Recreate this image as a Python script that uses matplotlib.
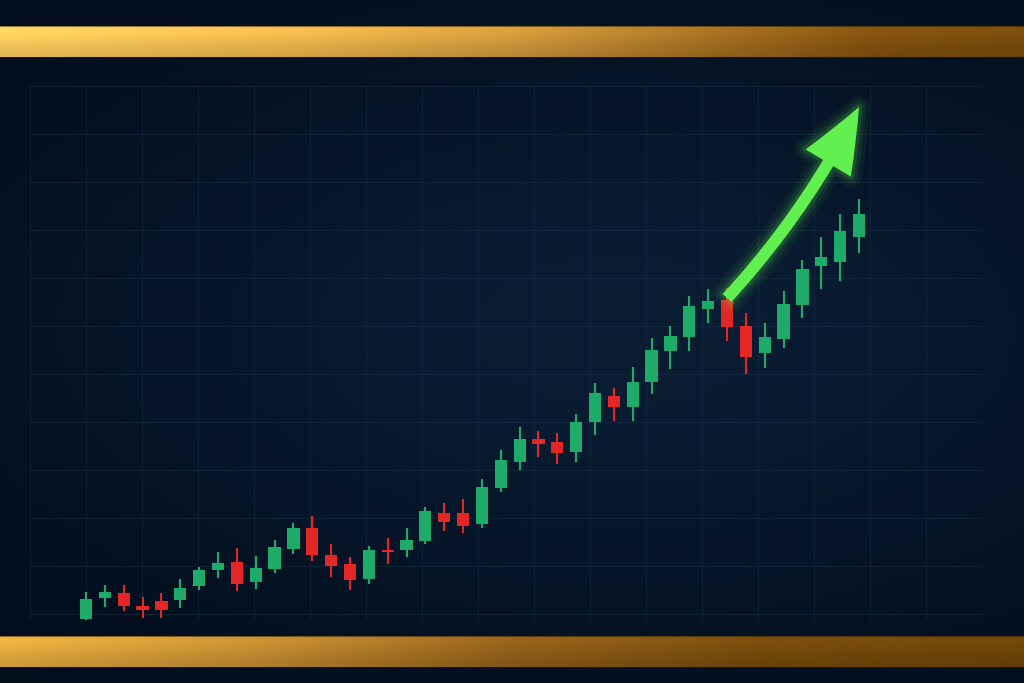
import numpy as np
import matplotlib
matplotlib.use("Agg")
import matplotlib.pyplot as plt
from matplotlib.patches import FancyArrowPatch
import matplotlib.patheffects as pe

# ---- data: OHLC candles ----
opens  = [97.5, 108, 110.5, 104, 106.5, 107, 114, 122, 126, 116, 122.5, 132.5, 143, 129.5,
          125, 117.5, 132, 132, 136.5, 150.5, 150.5, 145, 163, 176, 187.5, 186, 181, 196,
          209, 203.5, 216, 231.5, 238.5, 252.5, 257, 244, 230.5, 237.5, 254.5, 274, 276, 288.5]
highs  = [111, 114.5, 114.5, 108.5, 110.5, 117.5, 123.5, 131, 133, 129, 137, 145.5, 149, 135,
          128.5, 134, 138, 143, 153.5, 155.5, 157.5, 167.5, 182, 193.5, 191.5, 190.5, 200, 215.5,
          213, 223.5, 238, 244, 259, 262.5, 263, 250.5, 245.5, 261.5, 277, 288.5, 300, 307.5]
lows   = [95.5, 103.5, 101.5, 98, 98, 103, 112, 118, 111.5, 112.5, 120.5, 130, 126.5, 118.5,
          112, 115, 125, 128.5, 135, 141.5, 140.5, 143, 161, 172, 178.5, 175, 176, 189.5,
          196.5, 196.5, 210, 222.5, 231.5, 245.5, 236.5, 220, 223, 233, 248, 262.5, 266.5, 280.5]
closes = [107.5, 111, 104, 102, 102, 113, 122, 125.5, 115, 123, 133.5, 143, 129.5, 124,
          117, 132, 131, 137, 151.5, 146, 144, 163.5, 177, 187.5, 185, 180.5, 196, 210.5,
          203.5, 216, 232, 239, 254, 256.5, 243.5, 228.5, 238.5, 255, 272.5, 278.5, 291.5, 300]

grid_prices = [100 + 24 * k for k in range(12)]
arrow_start = (34, 258)
arrow_end = (41, 353.5)

GREEN = "#1eab69"
RED = "#e32727"
ARROW = "#62f050"

W, H = 1024, 683
fig = plt.figure(figsize=(W / 100, H / 100), dpi=100)

# ---- background ----
bg = fig.add_axes([0, 0, 1, 1])
bg.set_xlim(0, W)
bg.set_ylim(H, 0)
bg.axis("off")
yy, xx = np.mgrid[0:H, 0:W]
dark = np.array([0x02, 0x0d, 0x1b]) / 255
light = np.array([0x0a, 0x1d, 0x33]) / 255
r2 = ((xx - 620) / 650) ** 2 + ((yy - 330) / 330) ** 2
t = np.exp(-r2 * 1.3)[..., None]
img = dark + (light - dark) * t
bg.imshow(img, extent=(0, W, H, 0), aspect="auto", zorder=0, interpolation="bilinear")


def gold_bar(y0, y1, stops):
    xs = np.linspace(0, 1, 512)
    pos = [s[0] for s in stops]
    cols = np.array([matplotlib.colors.to_rgb(s[1]) for s in stops])
    row = np.stack([np.interp(xs, pos, cols[:, i]) for i in range(3)], axis=-1)
    n = 32
    shade = (1.0 + 0.08 * np.cos(np.linspace(0, np.pi, n)))[:, None, None]
    bar = np.clip(row[None, :, :] * shade, 0, 1)
    bg.imshow(bar, extent=(0, W, y1, y0), aspect="auto", zorder=1, interpolation="bilinear")
    bg.plot([0, W], [y0, y0], color="#2a1a05", lw=0.8, alpha=0.5, zorder=2)
    bg.plot([0, W], [y1, y1], color="#2a1a05", lw=0.8, alpha=0.6, zorder=2)


gold_bar(26, 57, [(0, "#f8cb5c"), (0.3, "#e8b24a"), (0.5, "#cc963a"), (0.7, "#a06c20"),
                  (0.85, "#80500f"), (1.0, "#764a0c")])
gold_bar(636, 667, [(0, "#e2aa3e"), (0.25, "#c08a30"), (0.5, "#8f5e1a"), (0.75, "#74490c"),
                    (1.0, "#6c4408")])

# ---- chart axes ----
x0_px, spacing = 86, 773 / 41
ax = fig.add_axes([30 / W, (H - 620) / H, (982 - 30) / W, (620 - 86) / H])
ax.set_facecolor("none")
ax.set_xlim((30 - x0_px) / spacing, (982 - x0_px) / spacing)
ax.set_ylim(97, 364)
for s in ax.spines.values():
    s.set_visible(False)
ax.set_xticks([(30 + 56 * k - x0_px) / spacing for k in range(18)])
ax.set_yticks(grid_prices)
ax.tick_params(length=0, labelbottom=False, labelleft=False)
ax.grid(True, color="#1c3955", lw=0.8, alpha=0.4)
ax.set_axisbelow(True)

x = np.arange(len(opens))
o = np.array(opens); c = np.array(closes); h = np.array(highs); l = np.array(lows)
cols = np.where(c >= o, GREEN, RED)
ax.vlines(x, l, h, colors=cols, lw=1.5, zorder=3)
ax.bar(x, np.maximum(np.abs(c - o), 0.8), bottom=np.minimum(o, c), width=0.65,
       color=cols, zorder=4, linewidth=0)

# ---- glowing arrow ----
arrow = FancyArrowPatch(arrow_start, arrow_end, connectionstyle="arc3,rad=0.07",
                        arrowstyle="simple,head_length=46,head_width=38,tail_width=8.5",
                        mutation_scale=1, shrinkA=0, shrinkB=0, color=ARROW,
                        lw=0, zorder=6)
arrow.set_path_effects([
    pe.Stroke(linewidth=16, foreground=ARROW, alpha=0.05),
    pe.Stroke(linewidth=10, foreground=ARROW, alpha=0.08),
    pe.Stroke(linewidth=5, foreground=ARROW, alpha=0.15),
    pe.Normal(),
])
ax.add_patch(arrow)

fig.savefig("out.png", dpi=100, facecolor=fig.get_facecolor())
